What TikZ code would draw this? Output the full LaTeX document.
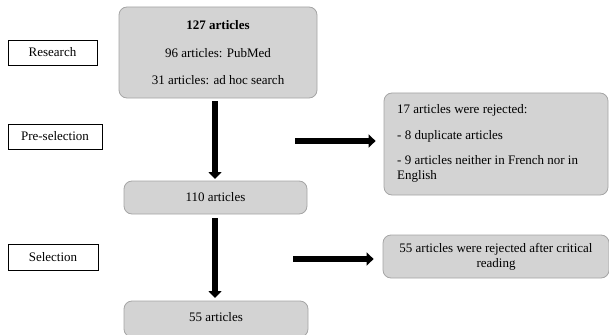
\documentclass[tikz,border=0pt]{standalone}
\usepackage{fontspec}
\setmainfont{Liberation Serif}
\usetikzlibrary{arrows.meta}
\definecolor{boxfill}{RGB}{211,211,211}
\definecolor{boxline}{RGB}{165,165,165}
\tikzset{
  txt/.style={font=\fontsize{13}{16}\selectfont},
  gbox/.style={draw=boxline, fill=boxfill, rounded corners=8pt, line width=0.8pt, inner sep=0pt, txt},
  stagebox/.style={draw=black, line width=0.7pt, fill=white, inner sep=0pt, txt},
  bigarrow/.style={line width=5.5pt, -{Triangle[width=13pt,length=7pt]}},
}
\begin{document}
\begin{tikzpicture}[x=1pt,y=-1pt]
\useasboundingbox (0,0) rectangle (609,334);
% stage labels
\node[stagebox, minimum width=89pt, minimum height=25pt] (research) at (52.5,52.5) {Research};
\node[stagebox, minimum width=94pt, minimum height=25pt] (presel) at (55,136.5) {Pre-selection};
\node[stagebox, minimum width=90pt, minimum height=26pt] (sel) at (53,257) {Selection};
% main boxes
\node[gbox, minimum width=198pt, minimum height=91pt] (top) at (218,52.5) {};
\node[txt, font=\fontsize{13}{16}\selectfont\bfseries] (t1) at (218,25) {127 articles};
\node[txt] (t2) at (218,53) {96 articles: PubMed};
\node[txt] (t3) at (218,80) {31 articles: ad hoc search};
\node[gbox, minimum width=183pt, minimum height=33pt] (b110) at (215.5,197.5) {110 articles};
\node[gbox, minimum width=184pt, minimum height=36pt] (b55) at (216,319) {};
\node[txt] (t55) at (216,317) {55 articles};
% right boxes
\node[gbox, minimum width=224pt, minimum height=102pt] (rej1) at (496,144) {};
\node[txt, anchor=west, inner sep=0pt] (r1) at (397,110) {17 articles were rejected:};
\node[txt, anchor=west, inner sep=0pt] (r2) at (397,136) {- 8 duplicate articles};
\node[font=\fontsize{13}{15}\selectfont, anchor=north west, align=left, inner sep=0pt] (r3) at (397,155) {- 9 articles neither in French nor in\\English};
\node[gbox, minimum width=226pt, minimum height=43pt, align=center, font=\fontsize{13}{15}\selectfont] (rej2) at (496,256.5) {55 articles were rejected after critical\\reading};
% arrows
\coordinate (a1s) at ([yshift=-3pt] top.south -| 215,0);
\coordinate (a1e) at (215,179);
\coordinate (a2s) at ([yshift=-4pt] b110.south -| 215,0);
\coordinate (a2e) at (215,298);
\draw[bigarrow] (a1s) -- (a1e);
\draw[bigarrow] (a2s) -- (a2e);
\coordinate (h1s) at (295,141);
\coordinate (h2s) at (293,259);
\draw[bigarrow, shorten >=8pt] (h1s) -- (h1s -| rej1.west);
\draw[bigarrow, shorten >=9pt] (h2s) -- (h2s -| rej2.west);
\end{tikzpicture}
\end{document}
